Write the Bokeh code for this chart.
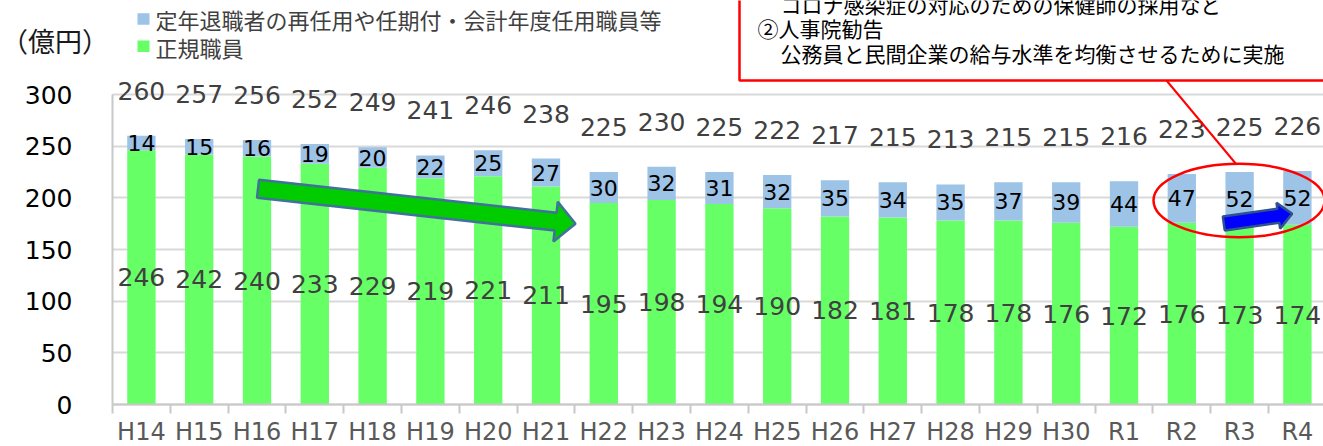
import numpy as np
from bokeh.plotting import figure
from bokeh.models import Range1d, FixedTicker, Label
from bokeh.core.properties import value
from bokeh.embed import file_html
from bokeh.resources import INLINE

# ---------------- data ----------------
categories = ["H14", "H15", "H16", "H17", "H18", "H19", "H20", "H21", "H22", "H23", "H24",
              "H25", "H26", "H27", "H28", "H29", "H30", "R1", "R2", "R3", "R4"]
regular_staff = [246, 242, 240, 233, 229, 219, 221, 211, 195, 198, 194,
                 190, 182, 181, 178, 178, 176, 172, 176, 173, 174]
other_staff = [14, 15, 16, 19, 20, 22, 25, 27, 30, 32, 31,
               32, 35, 34, 35, 37, 39, 44, 47, 52, 52]
totals = [260, 257, 256, 252, 249, 241, 246, 238, 225, 230, 225,
          222, 217, 215, 213, 215, 215, 216, 223, 225, 226]
y_ticks = [0, 50, 100, 150, 200, 250, 300]
legend_labels = ["定年退職者の再任用や任期付・会計年度任用職員等", "正規職員"]
unit_label = "（億円）"
note_lines = ["コロナ感染症の対応のための保健師の採用など",
              "②人事院勧告",
              "公務員と民間企業の給与水準を均衡させるために実施"]

# ---------------- layout ----------------
W, H = 1323, 446
AX_X = 112       # page x of the value axis (category -0.5)
AX_Y = 404       # page y of value 0
PX_X = 57.8      # pixels per category
PX_Y = 1.0333    # pixels per unit


def dx(px):
    return -0.5 + (px - AX_X) / PX_X


def dy(py):
    return (AX_Y - py) / PX_Y


GREEN = "#66ff66"
BLUE = "#9dc3e6"
FONT = "DejaVu Sans"
JFONT = "Noto Sans CJK JP"

p = figure(width=W, height=H, x_range=Range1d(dx(0), dx(W)), y_range=Range1d(dy(H), dy(0)),
           output_backend="svg", toolbar_location=None,
           min_border_left=0, min_border_right=0, min_border_top=0, min_border_bottom=0,
           outline_line_color=None, background_fill_color="white", border_fill_color="white")

n = len(categories)
idx = list(range(n))

p.xgrid.visible = False
p.ygrid.ticker = FixedTicker(ticks=y_ticks)
p.ygrid.grid_line_color = "#d9d9d9"
p.ygrid.grid_line_width = 2
p.ygrid.cross_bounds = (-0.5, dx(W))

p.yaxis.fixed_location = -0.5
p.yaxis.ticker = FixedTicker(ticks=y_ticks)
p.yaxis.bounds = (0, 300)
p.yaxis.axis_line_color = "#c8c8c8"
p.yaxis.axis_line_width = 2
p.yaxis.major_tick_line_color = None
p.yaxis.minor_tick_line_color = None
p.yaxis.major_tick_out = 0
p.yaxis.major_tick_in = 0
p.yaxis.major_label_standoff = 40
p.yaxis.major_label_text_font = FONT
p.yaxis.major_label_text_font_size = "25px"
p.yaxis.major_label_text_color = "#000000"

p.xaxis.fixed_location = 0
p.xaxis.ticker = FixedTicker(ticks=idx, minor_ticks=[i - 0.5 for i in range(n + 1)])
p.xaxis.bounds = (-0.5, dx(W))
p.xaxis.major_label_overrides = {i: c for i, c in enumerate(categories)}
p.xaxis.axis_line_color = "#c8c8c8"
p.xaxis.axis_line_width = 2
p.xaxis.major_tick_line_color = None
p.xaxis.major_tick_out = 0
p.xaxis.major_tick_in = 0
p.xaxis.minor_tick_out = 9
p.xaxis.minor_tick_in = 0
p.xaxis.minor_tick_line_color = "#c8c8c8"
p.xaxis.minor_tick_line_width = 2
p.xaxis.major_label_standoff = 4
p.xaxis.major_label_text_font = FONT
p.xaxis.major_label_text_font_size = "24px"
p.xaxis.major_label_text_color = "#595959"

# ---------------- bars ----------------
p.vbar(x=idx, top=regular_staff, bottom=0, width=0.49, fill_color=GREEN, line_color=None)
p.vbar(x=idx, top=totals, bottom=regular_staff, width=0.49, fill_color=BLUE, line_color=None)

# ---------------- data labels ----------------
p.text(x=idx, y=totals, text=[str(v) for v in totals], y_offset=-45,
       text_align="center", text_baseline="middle", text_font=value(FONT),
       text_font_size="25px", text_color="#404040")
p.text(x=idx, y=[r + o / 2 for r, o in zip(regular_staff, other_staff)],
       text=[str(v) for v in other_staff], text_align="center", text_baseline="middle",
       text_font=value(FONT), text_font_size="22px", text_color="#000000")
p.text(x=idx, y=[r / 2 for r in regular_staff], text=[str(v) for v in regular_staff],
       text_align="center", text_baseline="middle", text_font=value(FONT),
       text_font_size="25px", text_color="#404040")


# ---------------- arrows ----------------
def arrow(tail, tip, half_body, head_len, head_half, fill, line):
    t = np.array(tail, float)
    s = np.array(tip, float)
    d = s - t
    d /= np.hypot(*d)
    nrm = np.array([-d[1], d[0]])
    b = s - d * head_len
    pts = [t + nrm * half_body, b + nrm * half_body, b + nrm * head_half, s,
           b - nrm * head_half, b - nrm * half_body, t - nrm * half_body]
    p.patch([dx(q[0]) for q in pts], [dy(q[1]) for q in pts],
            fill_color=fill, line_color=line, line_width=2.5)


arrow((257.5, 188.3), (575, 223.3), 9, 20, 20, "#00cc00", "#41719c")
arrow((1223.3, 223), (1291.7, 213.3), 7, 14, 13, "#0000ff", "#2f528f")

# ---------------- highlight ellipse & note box ----------------
p.ellipse(x=dx(1238.5), y=dy(200), width=171 / PX_X, height=73.4 / PX_Y,
          fill_color=None, line_color="#ff0000", line_width=2.5)
p.segment(x0=dx(1166), y0=dy(80), x1=dx(1236), y1=dy(164),
          line_color="#ff0000", line_width=2)
p.quad(left=dx(739), right=dx(1340), bottom=dy(80), top=dy(-20),
       fill_color="white", line_color="#ff0000", line_width=2.5)
p.text(x=[dx(780), dx(757), dx(780)], y=[dy(3), dy(27), dy(52)], text=note_lines,
       text_align="left", text_baseline="middle", text_font=value(JFONT),
       text_font_size="21px", text_color="#000000")

# ---------------- legend ----------------
p.quad(left=[dx(137), dx(137)], right=[dx(149), dx(149)],
       top=[dy(12.7), dy(40)], bottom=[dy(24.2), dy(51.5)],
       fill_color=[BLUE, GREEN], line_color=None)
p.text(x=[dx(155), dx(155)], y=[dy(18), dy(46)], text=legend_labels,
       text_align="left", text_baseline="middle", text_font=value(JFONT),
       text_font_size="22px", text_color="#404040")

p.add_layout(Label(x=dx(0.5), y=dy(40), text=unit_label, text_font=JFONT,
                   text_font_size="27px", text_color="#1a1a1a",
                   text_align="left", text_baseline="middle"))

open("out.html", "w").write(file_html(p, INLINE))
